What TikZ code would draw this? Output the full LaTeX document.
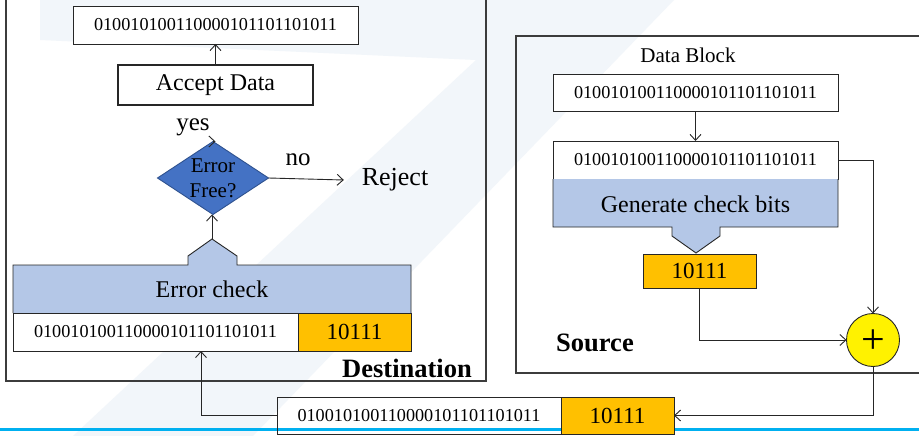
\documentclass[tikz,border=0pt]{standalone}
\usepackage{fontspec}
\setmainfont{Liberation Serif}
\usetikzlibrary{shapes.geometric,arrows.meta,calc}
\definecolor{wm}{HTML}{F2F6FA}
\definecolor{lblue}{HTML}{B4C7E7}
\definecolor{orng}{HTML}{FFC000}
\definecolor{dblue}{HTML}{4472C4}
\definecolor{dbord}{HTML}{2F528F}
\definecolor{cyanline}{HTML}{00B0F0}
\definecolor{ink}{HTML}{262626}
\begin{document}
\begin{tikzpicture}[x=1pt,y=-1pt,
  every node/.style={inner sep=0pt,outer sep=0pt},
  frame/.style={draw=ink!90,line width=1.2pt},
  box/.style={draw=ink,line width=0.9pt,fill=white,rectangle},
  obox/.style={draw=ink,line width=0.9pt,fill=orng,rectangle},
  arr/.style={draw=ink,line width=0.9pt,-{Straight Barb[length=6pt,width=11pt]}},
  ln/.style={draw=ink,line width=0.9pt},
  dtxt/.style={font=\fontsize{18.2}{20}\selectfont},
  ctxt/.style={font=\fontsize{23}{24}\selectfont},
  btxt/.style={font=\fontsize{24}{26}\selectfont},
  ttl/.style={font=\fontsize{26.5}{28}\selectfont\bfseries}]
\fill[white] (0,0) rectangle (919,436);
\useasboundingbox (0,0) rectangle (919,436);
% watermark
\fill[wm] (40,0) -- (674,0) -- (253,436) -- (73,436) -- (476,60) -- (40,40) -- cycle;
% frames
\draw[frame] (6,-5) -- (6,381) -- (486,381) -- (486,-5);
\draw[frame] (930,36) -- (516,36) -- (516,373) -- (930,373);
% ---------- Destination ----------
\node[box,dtxt,minimum width=285pt,minimum height=38pt] (dtop) at (215.5,25) {010010100110000101101101011};
\node[box,btxt,line width=1.6pt,minimum width=195pt,minimum height=40pt] (accept) at (215.5,85) {Accept Data};
\node[diamond,fill=dblue,draw=dbord,line width=0.9pt,minimum width=111pt,minimum height=73pt] (dia) at (213,178) {};
\node[font=\fontsize{21}{25}\selectfont,align=center,text=black] at (dia) {Error\\Free?};
\node[font=\fontsize{26}{28}\selectfont,inner xsep=18pt] (reject) at (395,180) {Reject};
\node[font=\fontsize{25}{27}\selectfont] (no) at (298,160) {no};
\node[font=\fontsize{25}{27}\selectfont] (yes) at (193,127) {yes};
\fill[lblue] (13,265) -- (188,265) -- (188,256) -- (212,239) -- (237,256) -- (237,265) -- (411,265) -- (411,313) -- (13,313) -- cycle;
\draw[ln] (13,313) -- (13,265) -- (188,265) -- (188,256) -- (212,239) -- (237,256) -- (237,265) -- (411,265) -- (411,313);
\coordinate (epeak) at (212,239);
\node[btxt] (echk) at (212,289) {Error check};
\node[box,dtxt,minimum width=285pt,minimum height=38pt] (ddata) at (155.5,332) {010010100110000101101101011};
\node[obox,ctxt,minimum width=113pt,minimum height=38pt] (dorg) at (354.5,332) {10111};
\node[ttl] (dest) at (407,368) {Destination};
\draw[arr] (epeak) -- (epeak |- dia.south);
\draw[arr] (dia.north) -- (dia.north -| accept.south);
\draw[arr] (accept.north) -- (dtop.south);
\draw[arr] (dia.east) -- (reject.west);
% ---------- Source ----------
\node[font=\fontsize{21}{23}\selectfont] (dblk) at (688,55) {Data Block};
\node[box,dtxt,minimum width=285pt,minimum height=37pt] (sd1) at (695.5,92.5) {010010100110000101101101011};
\node[box,dtxt,minimum width=285pt,minimum height=38pt] (sd2) at (695.5,160) {010010100110000101101101011};
\fill[lblue] (553,179) -- (838,179) -- (838,227) -- (720,227) -- (720,236) -- (696,253) -- (672,236) -- (672,227) -- (553,227) -- cycle;
\draw[ln] (838,179) -- (838,227) -- (720,227) -- (720,236) -- (696,253) -- (672,236) -- (672,227) -- (553,227) -- (553,179);
\node[btxt] (gen) at (695.5,204) {Generate check bits};
\node[obox,ctxt,minimum width=113pt,minimum height=34pt] (sorg) at (699.5,271) {10111};
\node[circle,fill=yellow,draw=ink,line width=0.9pt,minimum size=53pt] (plus) at (873,340) {};
\node[font=\fontsize{42}{42}\selectfont] at ([yshift=-2pt]plus.center) {+};
\node[ttl] (src) at (595,343) {Source};
\draw[arr] (sd1.south) -- (sd2.north);
\draw[arr] (sd2.east) -| (plus.north);
\draw[arr] (sorg.south) |- (plus.west);
% ---------- Channel ----------
\draw[cyanline,line width=3pt] (0,429.5) -- (919,429.5);
\node[draw=ink,line width=0.9pt,dtxt,minimum width=284pt,minimum height=37pt] (bw) at (419,415.5) {010010100110000101101101011};
\node[obox,ctxt,minimum width=113pt,minimum height=37pt] (bo) at (617.5,415.5) {10111};
\coordinate (din) at (201,351);
\draw[arr] (bw.west) -| (din);
\draw[arr] (plus.south) |- (bo.east);
\end{tikzpicture}
\end{document}
